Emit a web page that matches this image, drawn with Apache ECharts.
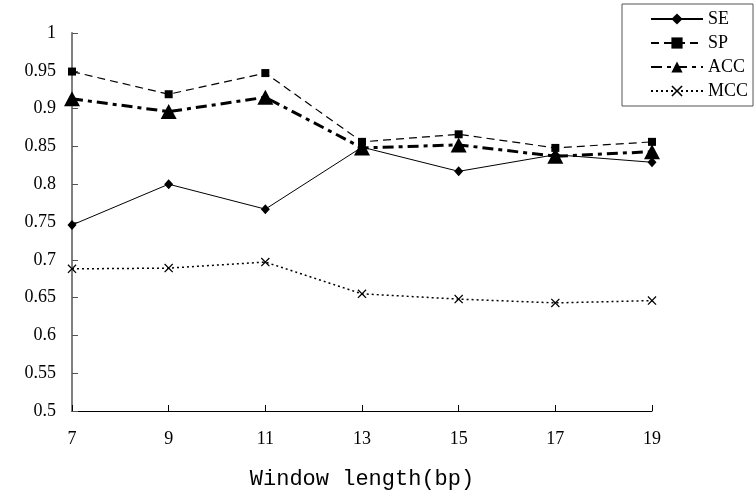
<!DOCTYPE html>
<html>
<head>
<meta charset="utf-8">
<script src="https://cdn.jsdelivr.net/npm/echarts@6/dist/echarts.min.js"></script>
<style>
  html, body { margin: 0; padding: 0; background: #fff; }
  #chart { width: 756px; height: 502px; }
</style>
</head>
<body>
<div id="chart"></div>
<script>
// window lengths on the x axis
const windowLengths = ['7', '9', '11', '13', '15', '17', '19']

// values
const seValues = [0.746, 0.800, 0.767, 0.849, 0.817, 0.839, 0.829]
const spValues = [0.949, 0.919, 0.947, 0.856, 0.866, 0.848, 0.856]
const accValues = [0.913, 0.896, 0.915, 0.848, 0.852, 0.837, 0.843]
const mccValues = [0.688, 0.689, 0.697, 0.655, 0.648, 0.643, 0.646]

const serif = 'Liberation Serif'
const crossPath = 'path://M0,1L1,0L5,4L9,0L10,1L6,5L10,9L9,10L5,6L1,10L0,9L4,5Z'

const chart = echarts.init(document.getElementById('chart'), null, { renderer: 'canvas' })

function lineSeries(name, data, symbol, symbolSize, lineStyle) {
  return {
    name: name,
    type: 'line',
    data: data,
    symbol: symbol,
    symbolSize: symbolSize,
    showAllSymbol: true,
    animation: false,
    itemStyle: { color: '#000' },
    lineStyle: Object.assign({ color: '#000' }, lineStyle)
  }
}

chart.setOption({
  backgroundColor: '#fff',
  animation: false,
  grid: {
    left: 72,
    right: 104,
    top: 33,
    bottom: 91
  },
  legend: {
    orient: 'vertical',
    left: 622,
    top: 4,
    padding: [6, 5, 6, 28],
    itemWidth: 52,
    itemHeight: 14,
    itemGap: 6,
    borderColor: '#555',
    borderWidth: 1,
    backgroundColor: '#fff',
    textStyle: { fontFamily: serif, fontSize: 18, color: '#000' },
    data: ['SE', 'SP', 'ACC', 'MCC']
  },
  xAxis: {
    type: 'category',
    data: windowLengths,
    boundaryGap: false,
    name: 'Window length(bp)',
    nameLocation: 'middle',
    nameGap: 57,
    nameTextStyle: { fontFamily: 'Liberation Mono', fontSize: 22, color: '#000' },
    axisLine: { lineStyle: { color: '#000', width: 1 } },
    axisTick: { inside: true, length: 6, alignWithLabel: true, lineStyle: { color: '#000' } },
    axisLabel: { margin: 19, fontFamily: serif, fontSize: 18, color: '#000' },
    splitLine: { show: false }
  },
  yAxis: {
    type: 'value',
    min: 0.5,
    max: 1,
    interval: 0.05,
    axisLine: { show: true, lineStyle: { color: '#808080', width: 2 } },
    axisTick: { show: true, inside: true, length: 6, lineStyle: { color: '#555' } },
    axisLabel: { margin: 16, fontFamily: serif, fontSize: 18, color: '#000' },
    splitLine: { show: false }
  },
  series: [
    lineSeries('SE', seValues, 'diamond', [9, 10], { width: 1, type: 'solid' }),
    lineSeries('SP', spValues, 'rect', 8, { width: 1.2, type: [8, 5] }),
    lineSeries('ACC', accValues, 'triangle', [16, 15], { width: 3, type: [11, 5, 4, 5] }),
    lineSeries('MCC', mccValues, crossPath, 9, { width: 1.5, type: [2, 3] })
  ]
})
</script>
</body>
</html>
